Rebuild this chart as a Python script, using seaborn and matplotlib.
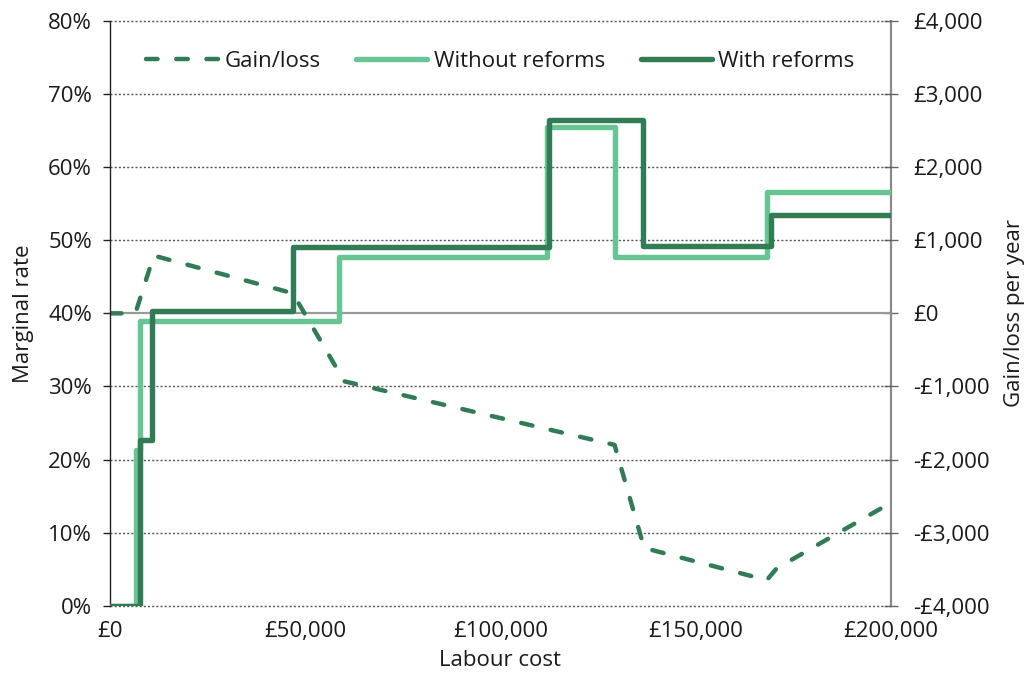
import matplotlib
matplotlib.use("Agg")
import matplotlib.pyplot as plt
from matplotlib.ticker import FuncFormatter
import seaborn as sns
import pandas as pd

# ---- data (x in £ labour cost) ----
without_x = [0, 6600, 7700, 58600, 111800, 129300, 168200, 200000]
without_y = [0, 21.3, 38.9, 47.7, 65.5, 47.7, 56.6, 56.6]

with_x = [0, 7800, 10700, 46800, 112500, 136500, 169200, 200000]
with_y = [0, 22.7, 40.3, 49.1, 66.5, 49.2, 53.4, 53.4]

gain_x = [0, 6500, 11200, 46800, 60000, 129200, 136800, 168200, 170700, 200000]
gain_y = [0, 0, 790, 275, -930, -1800, -3210, -3650, -3490, -2590]

x_ticks = [0, 50000, 100000, 150000, 200000]
left_ticks = [0, 10, 20, 30, 40, 50, 60, 70, 80]
right_ticks = [-4000, -3000, -2000, -1000, 0, 1000, 2000, 3000, 4000]

DARK = "#317c55"
LIGHT = "#67c493"
TXT = "#1a1a1a"

sns.set_style("white")
plt.rcParams['font.family'] = ['Open Sans', 'DejaVu Sans']
plt.rcParams['font.size'] = 16

fig = plt.figure(figsize=(10.28, 6.79), dpi=100)
ax = fig.add_axes([110/1028, 1 - 605.7/679, 781/1028, (605.7 - 21)/679])
ax2 = ax.twinx()

df_wo = pd.DataFrame({"x": without_x, "y": without_y})
df_w = pd.DataFrame({"x": with_x, "y": with_y})
df_g = pd.DataFrame({"x": gain_x, "y": gain_y})

# dashed gain/loss on right axis
ax2.axhline(0, color="#9a9a9a", lw=1.6, zorder=1)
sns.lineplot(data=df_g, x="x", y="y", ax=ax2, color=DARK, lw=3.2,
             linestyle=(0, (2.6, 4.2)),
             errorbar=None, label="Gain/loss", legend=False, zorder=3)
gain_line = ax2.lines[-1]
gain_line.set_dash_capstyle("round")

sns.lineplot(data=df_wo, x="x", y="y", ax=ax, color=LIGHT, lw=3.9,
             drawstyle="steps-post", errorbar=None, label="Without reforms",
             legend=False, zorder=3)
ax.lines[-1].set_solid_joinstyle("round")
sns.lineplot(data=df_w, x="x", y="y", ax=ax, color=DARK, lw=3.9,
             drawstyle="steps-post", errorbar=None, label="With reforms",
             legend=False, zorder=4)
ax.lines[-1].set_solid_joinstyle("round")

ax.set_zorder(ax2.get_zorder() + 1)
ax.patch.set_visible(False)

ax.set_xlim(0, 200000)
ax.set_ylim(0, 80)
ax2.set_ylim(-4000, 4000)

ax.set_xticks(x_ticks)
ax.set_yticks(left_ticks)
ax2.set_yticks(right_ticks)
ax.xaxis.set_major_formatter(FuncFormatter(lambda v, p: "£{:,.0f}".format(v)))
ax.yaxis.set_major_formatter(FuncFormatter(lambda v, p: "{:.0f}%".format(v)))
ax2.yaxis.set_major_formatter(FuncFormatter(
    lambda v, p: ("-£{:,.0f}".format(-v) if v < 0 else "£{:,.0f}".format(v))))

# grid: dotted, except the 40% line which is the zero line of the right axis
for t in left_ticks:
    if t != 40:
        ax.axhline(t, color="#555555", lw=1.0, linestyle=(0, (1.5, 1.5)),
                   zorder=0, clip_on=False)

for s in ["top", "bottom", "right"]:
    ax.spines[s].set_visible(False)
ax.spines["left"].set_color("#222222")
ax.spines["left"].set_linewidth(1.0)
for s in ["top", "bottom", "left"]:
    ax2.spines[s].set_visible(False)
ax2.spines["right"].set_color("#8a8a8a")
ax2.spines["right"].set_linewidth(1.6)

ax.tick_params(axis="x", length=0, pad=11, labelsize=16, labelcolor=TXT)
ax.tick_params(axis="y", direction="out", length=5, width=1, color="#222222",
               pad=8, labelsize=16, labelcolor=TXT, left=True)
ax2.tick_params(axis="y", direction="inout", length=10, width=1, color="#666666",
                pad=11, labelsize=16, labelcolor=TXT, right=True)

ax.set_xlabel("Labour cost", fontsize=16, color=TXT, labelpad=6)
ax.set_ylabel("Marginal rate", fontsize=16, color=TXT, labelpad=10)
ax2.set_ylabel("Gain/loss per year", fontsize=16, color=TXT, labelpad=10)

h2, l2 = ax2.get_legend_handles_labels()
h1, l1 = ax.get_legend_handles_labels()
leg = ax.legend(h2 + h1, l2 + l1, loc="upper center", ncol=3, frameon=False,
                fontsize=16, handlelength=3.2, handletextpad=0.3,
                columnspacing=1.6, bbox_to_anchor=(0.5, 1.0), borderaxespad=0.95)
for t in leg.get_texts():
    t.set_color(TXT)
for lh in leg.get_lines():
    lh.set_dash_capstyle("round")

fig.savefig("out.png", dpi=100)
